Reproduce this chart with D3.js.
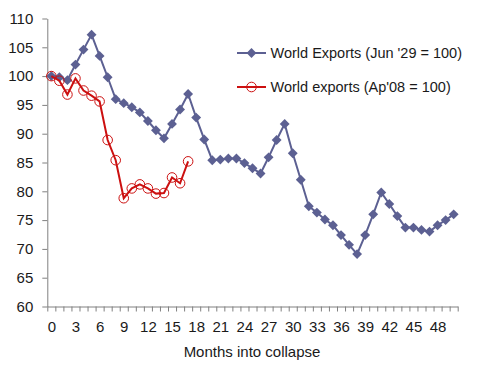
<!DOCTYPE html>
<meta charset="utf-8">
<style>
  body { margin: 0; background: #fff; }
  text { font-family: 'Liberation Sans', Arial, sans-serif; fill: #1a1a1a; }
  .axis path, .axis line { stroke: #808080; }
</style>
<body>
<script src="https://d3js.org/d3.v7.min.js"></script>
<script>
// months into collapse 0..50
var months = d3.range(0, 51);
var xLabels = d3.range(0, 49, 3);
var yTicks = [60, 65, 70, 75, 80, 85, 90, 95, 100, 105, 110];

// World Exports (Jun '29 = 100)
var exports1929 = [100, 99.8, 99.3, 102.0, 104.6, 107.2, 103.5, 99.8, 96.0, 95.3,
  94.6, 93.7, 92.2, 90.6, 89.2, 91.7, 94.2, 96.9, 92.8, 89.0,
  85.4, 85.5, 85.7, 85.7, 84.9, 84.0, 83.1, 85.9, 88.9, 91.7,
  86.6, 82.0, 77.4, 76.3, 75.1, 74.1, 72.4, 70.7, 69.1, 72.4,
  76.0, 79.8, 77.8, 75.7, 73.7, 73.7, 73.3, 73.0, 74.1, 75.0, 76.0];

// World exports (Ap'08 = 100)
var exports2008 = [100, 99.2, 96.8, 99.6, 97.5, 96.6, 95.6, 88.9, 85.4, 78.8,
  80.5, 81.2, 80.5, 79.6, 79.7, 82.4, 81.4, 85.2];

var seriesNames = ["World Exports (Jun '29 = 100)", "World exports (Ap'08 = 100)"];

var width = 477, height = 373;
var blue = "#5c6092", red = "#cc1010";

var svg = d3.select("body").append("svg")
  .attr("width", width)
  .attr("height", height);

var x = d3.scaleLinear().domain([-0.5, 50.5]).range([47.3, 457.7]);
var y = d3.scaleLinear().domain([60, 110]).range([306.5, 18.5]);

// y axis
svg.append("g")
  .attr("class", "axis")
  .attr("transform", "translate(47.3,0)")
  .call(d3.axisLeft(y).tickValues(yTicks).tickSize(5).tickPadding(9).tickSizeOuter(0))
  .call(function (g) {
    g.selectAll("text").style("font-size", "15px").attr("fill", "#1a1a1a");
  });

// x axis: ticks between categories
svg.append("g")
  .attr("class", "axis")
  .attr("transform", "translate(0,306.5)")
  .call(d3.axisBottom(x).tickValues(d3.range(-0.5, 51, 1)).tickSize(5).tickSizeOuter(0).tickFormat(""));

// x labels every 3 months
svg.append("g")
  .attr("transform", "translate(0,306.5)")
  .call(d3.axisBottom(x).tickValues(xLabels).tickSize(0).tickPadding(15))
  .call(function (g) {
    g.select(".domain").remove();
    g.selectAll("text").style("font-size", "15px").attr("fill", "#1a1a1a");
  });

svg.append("text")
  .attr("x", 252)
  .attr("y", 357)
  .attr("text-anchor", "middle")
  .style("font-size", "15px")
  .text("Months into collapse");

var line = d3.line()
  .x(function (d, i) { return x(i); })
  .y(function (d) { return y(d); });

// 1929 series
svg.append("path")
  .datum(exports1929)
  .attr("fill", "none")
  .attr("stroke", blue)
  .attr("stroke-width", 2)
  .attr("d", line);

var diamond = d3.symbol().type(d3.symbolDiamond2).size(62);

svg.selectAll(".dia")
  .data(exports1929)
  .join("path")
  .attr("class", "dia")
  .attr("d", diamond)
  .attr("transform", function (d, i) { return "translate(" + x(i) + "," + y(d) + ")"; })
  .attr("fill", blue);

// 2008 series
svg.append("path")
  .datum(exports2008)
  .attr("fill", "none")
  .attr("stroke", red)
  .attr("stroke-width", 2)
  .attr("d", line);

svg.selectAll(".circ")
  .data(exports2008)
  .join("circle")
  .attr("class", "circ")
  .attr("cx", function (d, i) { return x(i); })
  .attr("cy", function (d) { return y(d); })
  .attr("r", 4.8)
  .attr("fill", "none")
  .attr("stroke", red)
  .attr("stroke-width", 1);

// legend
var legend = svg.append("g");
var legY = [53, 87];
var colors = [blue, red];
seriesNames.forEach(function (name, i) {
  var g = legend.append("g").attr("transform", "translate(0," + legY[i] + ")");
  g.append("line")
    .attr("x1", 237).attr("x2", 266)
    .attr("stroke", colors[i]).attr("stroke-width", 2);
  if (i === 0) {
    g.append("path").attr("d", diamond)
      .attr("transform", "translate(251.5,0)")
      .attr("fill", blue);
  } else {
    g.append("circle").attr("cx", 251.5).attr("r", 4.8)
      .attr("fill", "none").attr("stroke", red);
  }
  g.append("text")
    .attr("x", 270.5)
    .attr("y", 5)
    .style("font-size", "14.5px")
    .text(name);
});
</script>
</body>
